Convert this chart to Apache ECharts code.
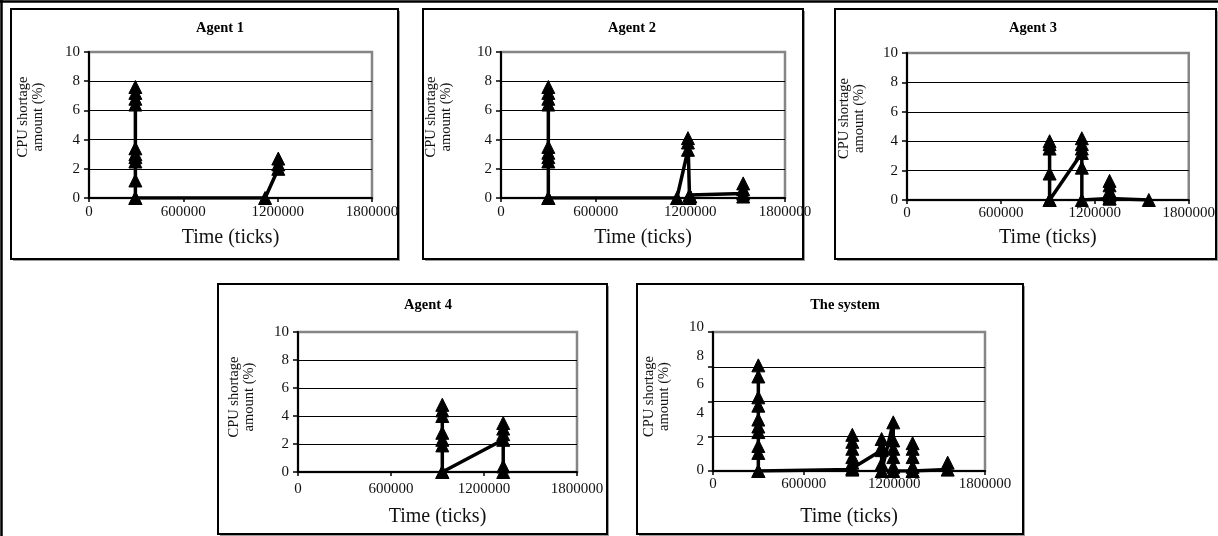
<!DOCTYPE html>
<html><head><meta charset="utf-8">
<script src="https://cdn.jsdelivr.net/npm/echarts@6/dist/echarts.min.js"></script>
<style>html,body{margin:0;padding:0;background:#fff}#c{width:1218px;height:536px}</style>
</head><body><div id="c"></div>
<script>
// ---- data ----
const panelTitles = ['Agent 1', 'Agent 2', 'Agent 3', 'Agent 4', 'The system'];
const xAxisName = 'Time (ticks)';
const yAxisName = 'CPU shortage\namount (%)';
const xTickLabels = [0, 600000, 1200000, 1800000];
const yTickLabels = [0, 2, 4, 6, 8, 10];

const agent1Time  = [295000,295000,295000,295000,295000,295000,295000,295000,295000,295000,295000, 1120000, 1204000,1204000,1204000];
const agent1Value = [0, 1.2, 2.5, 2.8, 3.0, 3.4, 6.4, 6.8, 7.2, 7.6, 0, 0, 2.0, 2.3, 2.7];

const agent2Time  = [300000,300000,300000,300000,300000,300000,300000,300000,300000,300000, 1115000, 1185000,1185000,1185000, 1195000,1195000, 1200000, 1535000,1535000,1535000,1535000];
const agent2Value = [0, 2.5, 2.8, 3.1, 3.5, 6.4, 6.8, 7.2, 7.6, 0, 0, 3.3, 3.8, 4.1, 0, 0.2, 0.1, 0.3, 0.6, 1.0, 0.1];

const agent3Time  = [911000,911000,911000,911000,911000,911000, 1117000,1117000,1117000,1117000,1117000,1117000, 1294000,1294000,1294000,1294000,1294000,1294000, 1545000];
const agent3Value = [0, 1.8, 3.5, 3.8, 4.0, 0, 3.2, 3.5, 3.8, 4.2, 2.2, 0, 0.1, 0.3, 0.6, 1.0, 1.3, 0.1, 0];

const agent4Time  = [931000,931000,931000,931000,931000,931000,931000,931000, 1324000,1324000,1324000,1324000,1324000,1324000];
const agent4Value = [0, 1.9, 2.3, 2.8, 4.0, 4.4, 4.8, 0, 2.3, 2.7, 3.1, 3.5, 0.4, 0];

const systemTime  = [300000,300000,300000,300000,300000,300000,300000,300000,300000,300000,300000,
                     922000,922000,922000,922000,922000,922000,922000,
                     1116000,1116000,1116000,1116000,1116000,
                     1193000,1193000,1193000,1193000,1193000,1193000,
                     1321000,1321000,1321000,1321000,1321000,1321000,
                     1553000,1553000];
const systemValue = [0, 1.3, 1.8, 2.8, 3.2, 3.7, 4.7, 5.3, 6.8, 7.6, 0,
                     0.1, 0.6, 1.0, 1.6, 2.1, 2.6, 0.2,
                     1.5, 1.7, 2.3, 0.5, 0,
                     3.5, 2.2, 1.6, 1.0, 0.3, 0,
                     0, 0.3, 1.0, 1.6, 2.0, 0,
                     0.1, 0.6];

const seriesTimes  = [agent1Time, agent2Time, agent3Time, agent4Time, systemTime];
const seriesValues = [agent1Value, agent2Value, agent3Value, agent4Value, systemValue];

// ---- layout ----
const FONT = '"Liberation Serif","Times New Roman",serif';
const boxes = [
  {x: 11, y: 9, w: 387, h: 250},
  {x: 423, y: 9, w: 380, h: 250},
  {x: 835, y: 9, w: 381, h: 250},
  {x: 218, y: 284, w: 389, h: 250},
  {x: 637, y: 284, w: 386, h: 250}
];
const grids = [
  {left: 89, top: 52, width: 283, height: 146},
  {left: 501, top: 52, width: 284, height: 146},
  {left: 907, top: 53, width: 287, height: 147},
  {left: 298, top: 332, width: 279, height: 140},
  {left: 713, top: 332, width: 272, height: 139}
];
const titlePos = [[220, 28], [632, 28], [1033, 28], [428, 305], [845, 305]];
const yNameGap = [43, 47, 40, 41, 41];
const yNameShift = [16, 16, 16, 10, 10];
const xLabelMargin = [7, 7, 6, 10, 6];
const xNameGap = [30, 30, 28, 35, 36];

const graphic = [];
graphic.push({type: 'line', z: -20, shape: {x1: 0, y1: 1.5, x2: 1218, y2: 1.5}, style: {stroke: '#000', lineWidth: 2.5}});
graphic.push({type: 'line', z: -20, shape: {x1: 1.5, y1: 0, x2: 1.5, y2: 536}, style: {stroke: '#000', lineWidth: 2.5}});
boxes.forEach((b, i) => {
  graphic.push({type: 'rect', z: -20, shape: {x: b.x + 2, y: b.y + 2, width: b.w, height: b.h}, style: {fill: '#9a9a9a'}});
  graphic.push({type: 'rect', z: -19, shape: {x: b.x, y: b.y, width: b.w, height: b.h}, style: {fill: '#fff', stroke: '#000', lineWidth: 2}});
  graphic.push({type: 'text', z: 10, x: titlePos[i][0], y: titlePos[i][1],
    style: {text: panelTitles[i], fill: '#000', font: 'bold 14.5px ' + FONT, align: 'center', verticalAlign: 'middle'}});
});

const gridOpt = grids.map(g => Object.assign({show: true, borderColor: '#858585', borderWidth: 2.5, backgroundColor: 'rgba(0,0,0,0)'}, g));
// extra grid carrying only the y labels of "The system"
gridOpt.push({left: 713, top: 327, width: 272, height: 143, show: false});

const xAxes = grids.map((g, i) => ({
  gridIndex: i, type: 'value', min: xTickLabels[0], max: xTickLabels[xTickLabels.length - 1],
  interval: xTickLabels[1] - xTickLabels[0],
  axisLine: {show: true, lineStyle: {color: '#000', width: 2}},
  axisTick: {show: true, inside: false, length: 4, lineStyle: {color: '#000', width: 1.5}},
  axisLabel: {formatter: v => String(v), fontSize: 15, fontFamily: FONT, color: '#111', margin: xLabelMargin[i]},
  splitLine: {show: false},
  name: xAxisName, nameLocation: 'middle', nameGap: xNameGap[i],
  nameTextStyle: {fontSize: 20, fontFamily: FONT, color: '#111'}
}));
xAxes.push({gridIndex: 5, type: 'value', min: 0, max: 1, show: false});

const yAxes = grids.map((g, i) => {
  const isSystem = i === 4;
  return {
    gridIndex: i, type: 'value', min: yTickLabels[0], max: yTickLabels[yTickLabels.length - 1],
    interval: isSystem ? 2.5 : yTickLabels[1] - yTickLabels[0],
    axisLine: {show: true, lineStyle: {color: '#000', width: 2}},
    axisTick: {show: true, inside: false, length: 5, lineStyle: {color: '#000', width: 1.5}},
    axisLabel: {show: !isSystem, fontSize: 15, fontFamily: FONT, color: '#111', margin: 9},
    splitLine: {show: true, showMinLine: false, showMaxLine: false, lineStyle: {color: '#000', width: 1.2}},
    name: yAxisName, nameLocation: 'middle', nameRotate: 90, nameGap: yNameGap[i],
    nameTextStyle: {fontSize: 14.5, lineHeight: 15, fontFamily: FONT, color: '#111', padding: [0, 0, 0, yNameShift[i]]}
  };
});
yAxes.push({
  gridIndex: 5, type: 'value', min: yTickLabels[0], max: yTickLabels[yTickLabels.length - 1],
  interval: yTickLabels[1] - yTickLabels[0],
  axisLine: {show: false}, axisTick: {show: false}, splitLine: {show: false},
  axisLabel: {show: true, fontSize: 15, fontFamily: FONT, color: '#111', margin: 9}
});

const series = seriesTimes.map((ts, i) => ({
  type: 'line', xAxisIndex: i, yAxisIndex: i,
  data: ts.map((t, k) => [t, seriesValues[i][k]]),
  symbol: 'triangle', symbolSize: 13, showAllSymbol: true,
  lineStyle: {color: '#000', width: 3.5},
  itemStyle: {color: '#000', borderColor: '#000', borderWidth: 1},
  emphasis: {disabled: true},
  z: 3
}));

const chart = echarts.init(document.getElementById('c'), null, {renderer: 'canvas'});
chart.setOption({
  animation: false,
  backgroundColor: '#fff',
  graphic: {elements: graphic},
  grid: gridOpt,
  xAxis: xAxes,
  yAxis: yAxes,
  series: series
});
</script>
</body></html>
